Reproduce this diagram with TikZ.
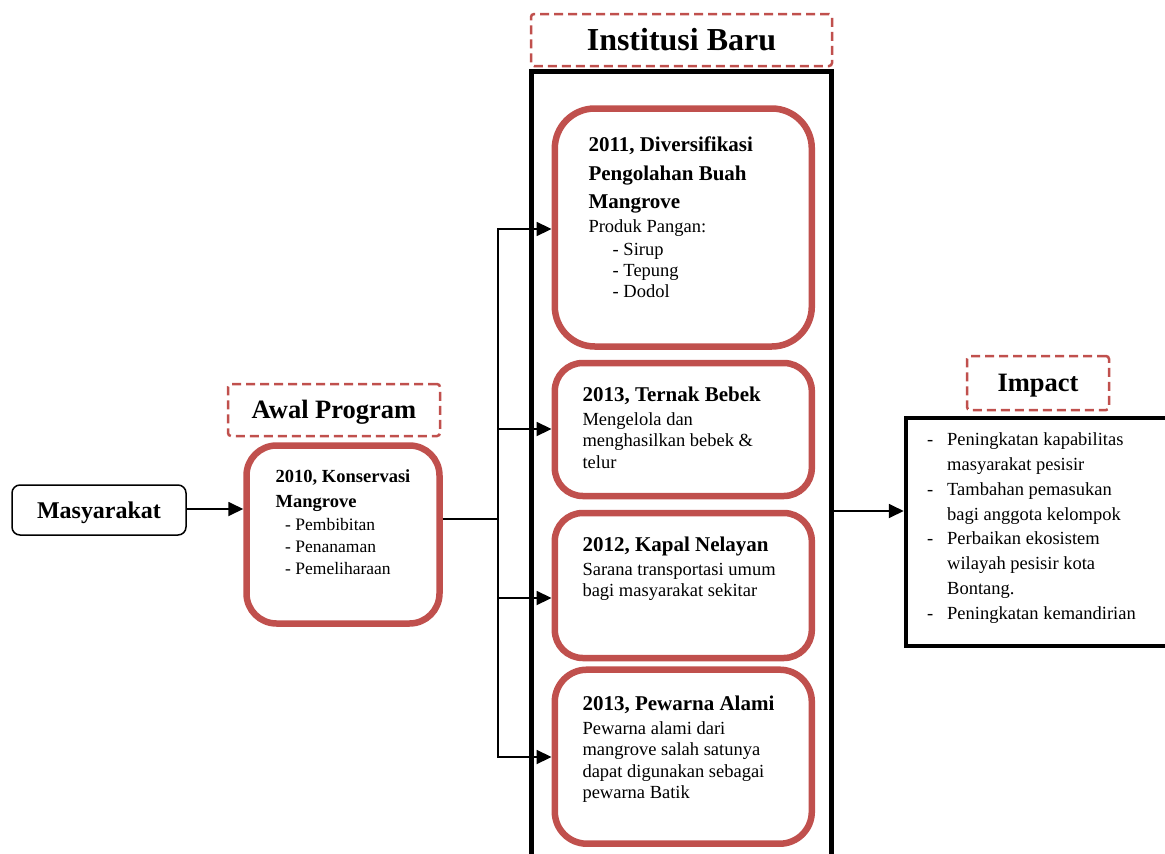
\documentclass[tikz,border=0pt]{standalone}
\usepackage{fontspec}
\setmainfont{Liberation Serif}
\usetikzlibrary{arrows.meta}
\definecolor{redb}{HTML}{C0504D}
\tikzset{
  redbox/.style={draw=redb, line width=6.5pt, rounded corners=#1, inner sep=0pt},
  redbox/.default=38pt,
  dashbox/.style={draw=redb, line width=2.5pt, dash pattern=on 9pt off 5pt, rounded corners=3pt, inner sep=0pt, font=\bfseries},
  txt/.style={anchor=base west, inner sep=0pt},
  ttl/.style={txt, font=\fontsize{21}{24}\selectfont\bfseries},
  bod/.style={txt, font=\fontsize{18.5}{22}\selectfont},
  arr/.style={-{Triangle[length=15pt,width=14pt]}, line width=1.8pt},
  conn/.style={line width=1.8pt}
}
\begin{document}
\begin{tikzpicture}[x=1pt,y=-1pt]
\useasboundingbox (0,0) rectangle (1165,854);
% headers
\node[dashbox, minimum width=301pt, minimum height=52pt, text height=21pt, text depth=0pt, font=\fontsize{32}{36}\selectfont\bfseries] (hinst) at (681.5,40) {Institusi Baru};
\node[dashbox, minimum width=212pt, minimum height=52pt, text height=17.5pt, text depth=0pt, font=\fontsize{26.5}{30}\selectfont\bfseries] (hawal) at (334,410) {Awal Program};
\node[dashbox, minimum width=142pt, minimum height=54pt, text height=17.5pt, text depth=0pt, font=\fontsize{26.5}{30}\selectfont\bfseries] (himp) at (1038,383) {Impact};
% big black container
\node[draw, line width=5pt, minimum width=300pt, minimum height=800pt, inner sep=0pt] (inst) at (681,471) {};
% Masyarakat
\node[draw, line width=1.5pt, rounded corners=8pt, minimum width=174pt, minimum height=50pt, inner sep=0pt, text height=16pt, text depth=0pt, font=\fontsize{24}{28}\selectfont\bfseries] (mas) at (99,510) {Masyarakat};
% 2010 box
\node[redbox=30pt, minimum width=193pt, minimum height=178pt] (b0) at (343,534.5) {};
\node[txt, font=\fontsize{18.5}{22}\selectfont\bfseries] (b0a) at (275.5,482.5) {2010, Konservasi};
\node[txt, font=\fontsize{18.5}{22}\selectfont\bfseries] (b0b) at (275.5,507) {Mangrove};
\node[txt, font=\fontsize{17.5}{21}\selectfont] (b0c) at (285,530.7) {- Pembibitan};
\node[txt, font=\fontsize{17.5}{21}\selectfont] (b0d) at (285,552.7) {- Penanaman};
\node[txt, font=\fontsize{17.5}{21}\selectfont] (b0e) at (285,574.7) {- Pemeliharaan};
% Box 1
\node[redbox=40pt, minimum width=257pt, minimum height=238pt] (b1) at (683.3,227.5) {};
\node[ttl] (b1a) at (588.3,151.7) {2011, Diversifikasi};
\node[ttl] (b1b) at (588.3,180) {Pengolahan Buah};
\node[ttl] (b1c) at (588.3,208.3) {Mangrove};
\node[bod] (b1d) at (588.3,232.7) {Produk Pangan:};
\node[bod] (b1e) at (612.5,255) {- Sirup};
\node[bod] (b1f) at (612.5,276) {- Tepung};
\node[bod] (b1g) at (612.5,297.3) {- Dodol};
% Box 2
\node[redbox=28pt, minimum width=257pt, minimum height=133pt] (b2) at (683.3,429.5) {};
\node[ttl] (b2a) at (582.3,401.7) {2013, Ternak Bebek};
\node[bod] (b2b) at (582.3,425.7) {Mengelola dan};
\node[bod] (b2c) at (582.3,446.7) {menghasilkan bebek \&};
\node[bod] (b2d) at (582.3,468.3) {telur};
% Box 3
\node[redbox=28pt, minimum width=257pt, minimum height=145pt] (b3) at (683.3,585.5) {};
\node[ttl] (b3a) at (582.3,551.7) {2012, Kapal Nelayan};
\node[bod] (b3b) at (582.3,575.7) {Sarana transportasi umum};
\node[bod] (b3c) at (582.3,596.7) {bagi masyarakat sekitar};
% Box 4
\node[redbox=32pt, minimum width=257pt, minimum height=174pt] (b4) at (683.3,756.7) {};
\node[ttl] (b4a) at (582.3,710.7) {2013, Pewarna Alami};
\node[bod] (b4b) at (582.3,734.7) {Pewarna alami dari};
\node[bod] (b4c) at (582.3,755.7) {mangrove salah satunya};
\node[bod] (b4d) at (582.3,777.7) {dapat digunakan sebagai};
\node[bod] (b4e) at (582.3,798.7) {pewarna Batik};
% Impact box
\node[draw, line width=4.5pt, minimum width=269pt, minimum height=228pt, inner sep=0pt] (imp) at (1040.5,532) {};
\node[bod] (i1d) at (927,445.7) {-};
\node[bod] (i1) at (947,445.7) {Peningkatan kapabilitas};
\node[bod] (i2) at (947,470.5) {masyarakat pesisir};
\node[bod] (i3d) at (927,495.2) {-};
\node[bod] (i3) at (947,495.2) {Tambahan pemasukan};
\node[bod] (i4) at (947,520) {bagi anggota kelompok};
\node[bod] (i5d) at (927,544.7) {-};
\node[bod] (i5) at (947,544.7) {Perbaikan ekosistem};
\node[bod] (i6) at (947,569.5) {wilayah pesisir kota};
\node[bod] (i7) at (947,594.2) {Bontang.};
\node[bod] (i8d) at (927,619) {-};
\node[bod] (i8) at (947,619) {Peningkatan kemandirian};
% connectors
\coordinate (my) at (0,509);
\draw[arr] (mas.east |- my) -- (b0.west |- my);
\coordinate (j) at (498,519);
\coordinate (t1) at (498,229);
\coordinate (t2) at (498,429);
\coordinate (t3) at (498,598);
\coordinate (t4) at (498,757);
\draw[conn] (b0.east |- j) -- (j);
\draw[conn, line cap=rect] (t1) -- (t4);
\draw[arr] (t1) -- (t1 -| b1.west);
\draw[arr] (t2) -- (t2 -| b2.west);
\draw[arr] (t3) -- (t3 -| b3.west);
\draw[arr] (t4) -- (t4 -| b4.west);
\coordinate (iy) at (0,511);
\draw[arr] (inst.east |- iy) -- (imp.west |- iy);
\end{tikzpicture}
\end{document}
